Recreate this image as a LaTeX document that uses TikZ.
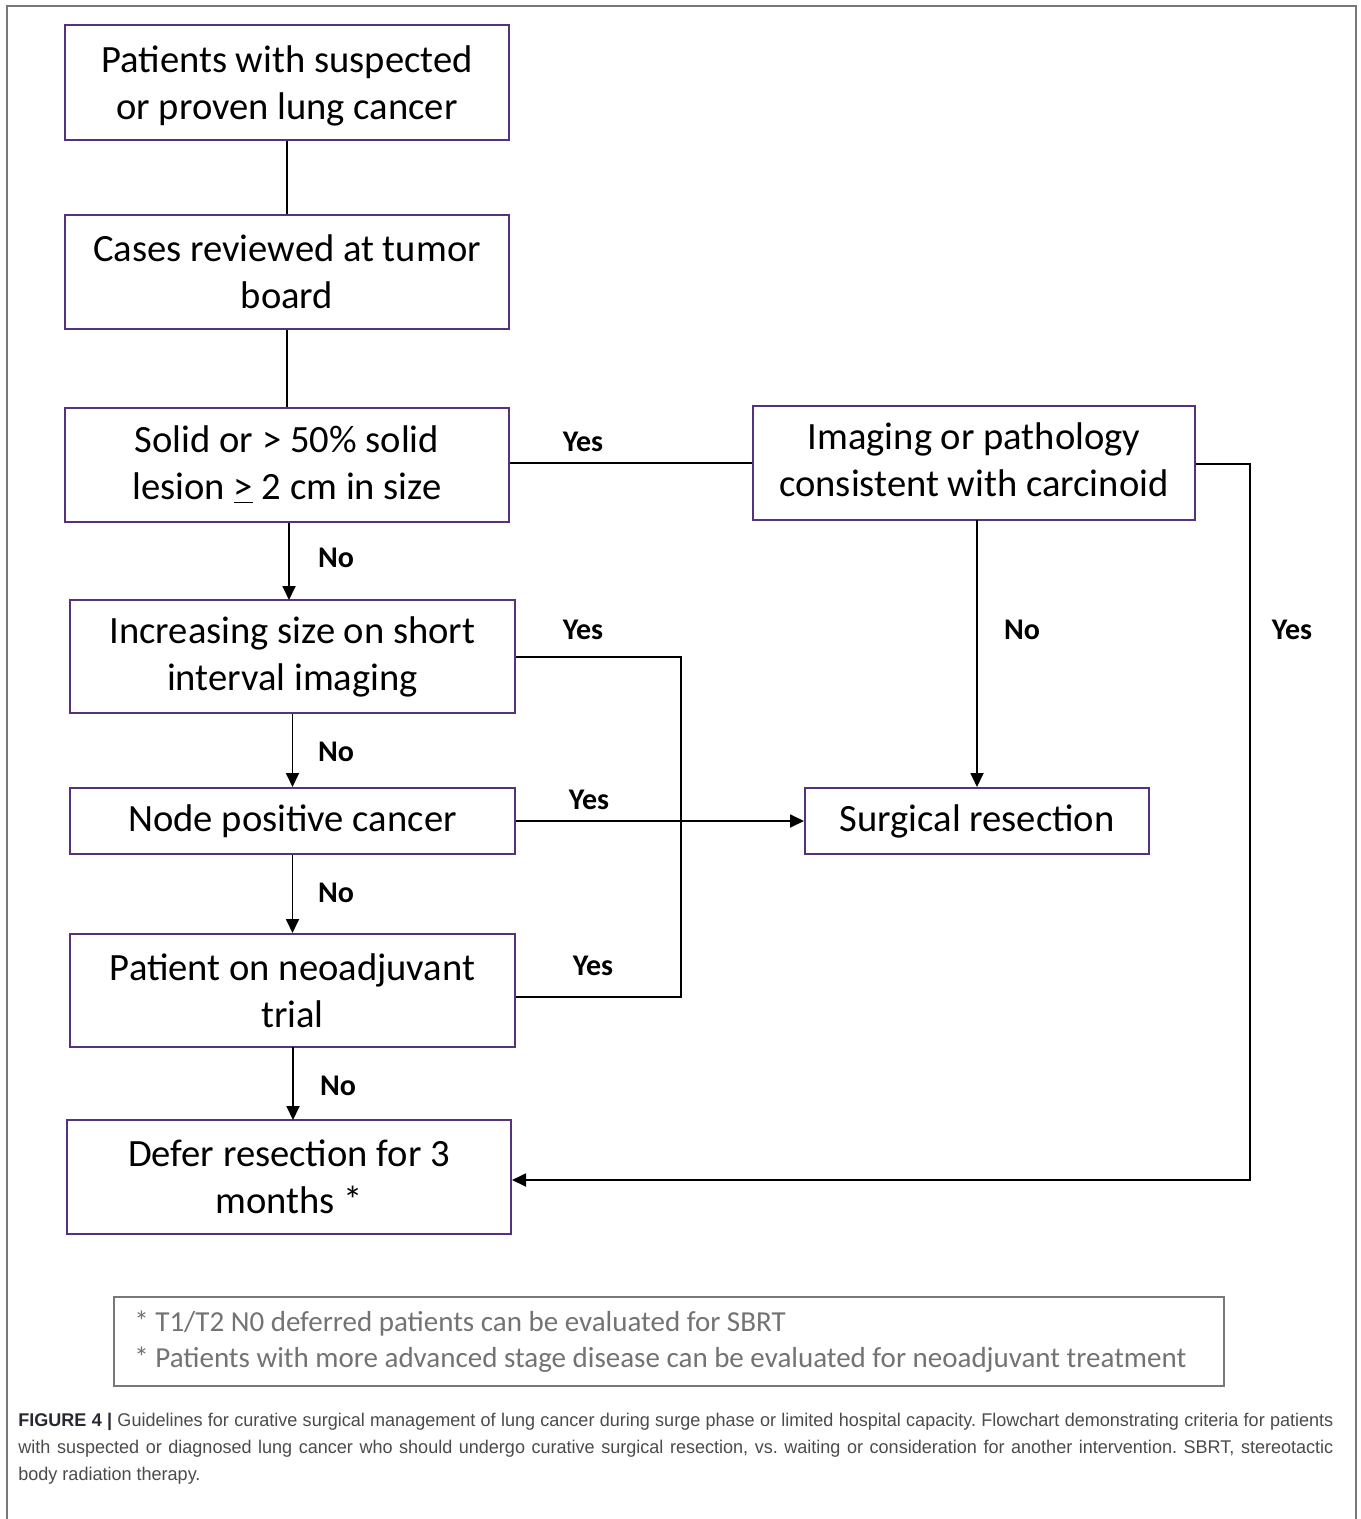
\documentclass[tikz,border=0pt]{standalone}
\usepackage{fontspec}
\setmainfont{Carlito}
\newfontfamily\capfont[FakeStretch=0.98]{Liberation Sans}
\usetikzlibrary{arrows.meta}
\definecolor{boxpurple}{RGB}{85,50,125}
\definecolor{framegray}{RGB}{120,120,120}
\definecolor{notegray}{RGB}{115,115,115}
\definecolor{capgray}{RGB}{75,75,75}
\definecolor{capdark}{RGB}{40,40,50}
\newcommand{\shiftedlines}[2]{\raisebox{#1}[\height][\depth]{\begin{tabular}{@{}c@{}}#2\end{tabular}}}
\frenchspacing
\begin{document}
\begin{tikzpicture}[x=0.5pt,y=-0.5pt,
  flowbox/.style={draw=boxpurple,line width=1pt,fill=white,inner sep=0pt,align=center,
    font=\fontsize{19.3}{23.5}\selectfont},
  lab/.style={font=\fontsize{15}{17}\selectfont\bfseries},
  conn/.style={line width=0.9pt,draw=black},
  arr/.style={conn,-{Triangle[length=7pt,width=6.5pt]}},
  caplinestyle/.style={anchor=west,inner sep=0pt,font=\capfont\fontsize{9.2}{11}\selectfont,text=capgray}
]
\useasboundingbox (0,0) rectangle (1360,1519);
\fill[white] (0,0) rectangle (1360,1519);
\draw[framegray,line width=1pt] (7,1519) -- (7,6) -- (1356,6) -- (1356,1519);

% boxes
\node[flowbox,minimum width=222pt,minimum height=57.5pt] (b1) at (287,82.5) {\shiftedlines{-2pt}{Patients with suspected\\or proven lung cancer}};
\node[flowbox,minimum width=222pt,minimum height=57pt] (b2) at (287,272) {Cases reviewed at tumor\\board};
\node[flowbox,minimum width=222pt,minimum height=57pt] (b3) at (287,465) {Solid or > 50\% solid\\lesion \underline{>} 2 cm in size};
\node[flowbox,minimum width=221pt,minimum height=57pt] (c) at (974,463) {\shiftedlines{-0.5pt}{Imaging or pathology\\consistent with carcinoid}};
\node[flowbox,minimum width=222.5pt,minimum height=56.5pt] (b4) at (292.5,656.5) {Increasing size on short\\interval imaging};
\node[flowbox,minimum width=222.5pt,minimum height=33pt] (b5) at (292.5,821) {Node positive cancer};
\node[flowbox,minimum width=172pt,minimum height=33pt] (s) at (977,821) {Surgical resection};
\node[flowbox,minimum width=222.5pt,minimum height=56.5pt] (b6) at (292.5,990.5) {Patient on neoadjuvant\\trial};
\node[flowbox,minimum width=222pt,minimum height=57pt] (b7) at (289,1177) {Defer resection for 3\\months *};

% note box
\node[draw=framegray,line width=0.8pt,minimum width=555pt,minimum height=44.5pt,inner sep=0pt] (note) at (669,1341.5) {};
\node[anchor=west,align=left,inner sep=0pt,text=notegray,font=\fontsize{14.5}{18}\selectfont] (notetext) at (134,1341.5)
  {* T1/T2 N0 deferred patients can be evaluated for SBRT\\* Patients with more advanced stage disease can be evaluated for neoadjuvant treatment};

% connectors
\coordinate (j1) at (681,657);
\coordinate (j2) at (681,997);
\coordinate (r1) at (1250,464);
\coordinate (r2) at (1250,1180);
\draw[conn] (b1.south) -- (b2.north);
\draw[conn] (b2.south) -- (b3.north);
\draw[conn] (c.west -| b3.east) -- (c.west);
\draw[arr] (b3.south) ++(2,0) -- (289,600);
\draw[arr] (b4.south) -- (b5.north);
\draw[arr] (b5.south) -- (b6.north);
\draw[arr] (293,1047) -- (293,1120);
\draw[conn] (j1 -| b4.east) -- (j1) -- (j2) -- (j2 -| b6.east);
\draw[arr] (b5.east) -- (s.west);
\draw[arr] (977,520) -- (s.north);
\draw[arr] (r1 -| c.east) -- (r1) -- (r2) -- (r2 -| b7.east);

% labels
\node[lab] (y1) at (583,442) {Yes};
\node[lab] (n1) at (336,558) {No};
\node[lab] (y2) at (583,630) {Yes};
\node[lab] (n2) at (336,752) {No};
\node[lab] (y3) at (589,800) {Yes};
\node[lab] (n3) at (336,893) {No};
\node[lab] (y4) at (593,966) {Yes};
\node[lab] (n4) at (338,1086) {No};
\node[lab] (n5) at (1022,630) {No};
\node[lab] (y5) at (1292,630) {Yes};

% caption
\node[caplinestyle] (cap1) at (18,1422) {\makebox[657.5pt][s]{{\bfseries\color{capdark}FIGURE 4 |} Guidelines for curative surgical management of lung cancer during surge phase or limited hospital capacity. Flowchart demonstrating criteria for patients}};
\node[caplinestyle] (cap2) at (18,1449) {\makebox[657.5pt][s]{with suspected or diagnosed lung cancer who should undergo curative surgical resection, vs. waiting or consideration for another intervention. SBRT, stereotactic}};
\node[caplinestyle] (cap3) at (18,1476) {body radiation therapy.};
\end{tikzpicture}
\end{document}
